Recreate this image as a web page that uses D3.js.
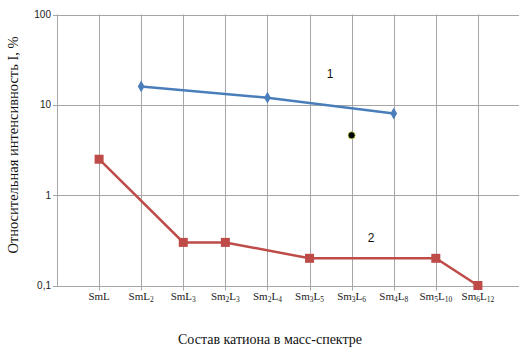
<!DOCTYPE html>
<html><head><meta charset="utf-8">
<script src="https://cdn.jsdelivr.net/npm/d3@7"></script>
<style>body{margin:0;background:#fff}svg{display:block}</style>
</head><body>
<script>
const categories = [
  [["Sm",""],["L",""]],
  [["Sm",""],["L","2"]],
  [["Sm",""],["L","3"]],
  [["Sm","2"],["L","3"]],
  [["Sm","2"],["L","4"]],
  [["Sm","3"],["L","5"]],
  [["Sm","3"],["L","6"]],
  [["Sm","4"],["L","8"]],
  [["Sm","5"],["L","10"]],
  [["Sm","6"],["L","12"]]
];
const catKeys = ["SmL","SmL2","SmL3","Sm2L3","Sm2L4","Sm3L5","Sm3L6","Sm4L8","Sm5L10","Sm6L12"];
const series1 = [["SmL2",16],["Sm2L4",12],["Sm4L8",8]];
const series2 = [["SmL",2.5],["SmL3",0.3],["Sm2L3",0.3],["Sm3L5",0.2],["Sm5L10",0.2],["Sm6L12",0.1]];
const extraPoint = [["Sm3L6",4.6]];
const yTicks = [0.1,1,10,100];
const yTickLabels = ["0,1","1","10","100"];
const xTitle = "Состав катиона в масс-спектре";
const yTitle = "Относительная интенсивность I, %";

const W=519,H=348;
const serif="'Liberation Serif','Times New Roman',serif";
const sans="'Liberation Sans',Arial,sans-serif";
const svg=d3.select("body").append("svg").attr("width",W).attr("height",H);
const L=57,R=519,T=14.5,B=285.5;
const x=d3.scalePoint().domain(catKeys).range([L,R+1]).padding(1);
const y=d3.scaleLog().domain([0.1,100]).range([B,T]);
const grid="#a6a6a6";

// horizontal grid
svg.append("g").selectAll("line").data(yTicks).join("line")
 .attr("x1",L-4).attr("x2",R).attr("y1",d=>Math.round(y(d))+0.5).attr("y2",d=>Math.round(y(d))+0.5)
 .attr("stroke",grid).attr("stroke-width",1);
// vertical grid
svg.append("g").selectAll("line").data(catKeys).join("line")
 .attr("x1",d=>Math.round(x(d))+0.5).attr("x2",d=>Math.round(x(d))+0.5).attr("y1",T).attr("y2",B+5)
 .attr("stroke",grid).attr("stroke-width",1);
// y axis line
svg.append("line").attr("x1",L+0.5).attr("x2",L+0.5).attr("y1",T).attr("y2",B+1).attr("stroke",grid);

// y tick labels
svg.append("g").selectAll("text").data(yTicks).join("text")
 .attr("x",51).attr("y",d=>y(d)+3.5).attr("text-anchor","end")
 .attr("font-family",sans).attr("font-size",10).attr("fill","#222")
 .text((d,i)=>yTickLabels[i]);

// x tick labels with subscripts
const xl=svg.append("g");
categories.forEach((c,i)=>{
  const t=xl.append("text").attr("x",x(catKeys[i])).attr("y",300).attr("text-anchor","middle")
   .attr("font-family",serif).attr("font-size",11).attr("fill","#222");
  let off=0;
  c.forEach(([base,sub])=>{
    t.append("tspan").attr("dy",-off).text(base); off=0;
    if(sub){t.append("tspan").attr("font-size",7.5).attr("dy",2).text(sub); off=2;}
  });
});

// titles
svg.append("text").attr("x",270).attr("y",344).attr("text-anchor","middle")
 .attr("font-family",serif).attr("font-size",14).attr("fill","#111").text(xTitle);
svg.append("text").attr("transform","translate(18,145) rotate(-90)").attr("text-anchor","middle")
 .attr("font-family",serif).attr("font-size",14.5).attr("fill","#111").text(yTitle);

const line=d3.line().x(d=>x(d[0])).y(d=>y(d[1]));
// series 1
svg.append("path").datum(series1).attr("d",line).attr("fill","none").attr("stroke","#4a7ebb").attr("stroke-width",2.5);
svg.append("g").selectAll("path").data(series1).join("path")
 .attr("d",d3.symbol(d3.symbolDiamond,40)()).attr("transform",d=>`translate(${x(d[0])},${y(d[1])})`).attr("fill","#4a7ebb");
// series 2
svg.append("path").datum(series2).attr("d",line).attr("fill","none").attr("stroke","#be4b48").attr("stroke-width",2.5);
svg.append("g").selectAll("rect").data(series2).join("rect")
 .attr("x",d=>x(d[0])-4.5).attr("y",d=>y(d[1])-4.5).attr("width",9).attr("height",9).attr("fill","#be4b48");
// extra point
svg.append("g").selectAll("circle").data(extraPoint).join("circle")
 .attr("cx",d=>x(d[0])).attr("cy",d=>y(d[1])).attr("r",3.5).attr("fill","#000").attr("stroke","#b5d334").attr("stroke-width",0.8);

// series labels
svg.append("text").attr("x",330).attr("y",78).attr("text-anchor","middle")
 .attr("font-family",sans).attr("font-size",12).attr("fill","#111").text("1");
svg.append("text").attr("x",371).attr("y",242).attr("text-anchor","middle")
 .attr("font-family",sans).attr("font-size",12).attr("fill","#111").text("2");
</script>
</body></html>
